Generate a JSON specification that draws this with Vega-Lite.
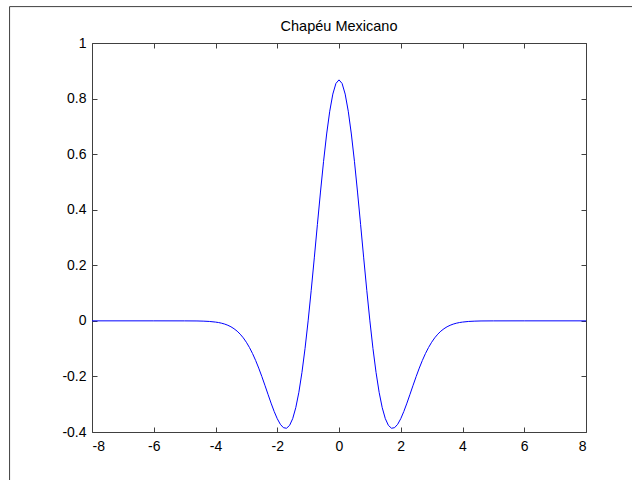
{
  "$schema": "https://vega.github.io/schema/vega-lite/v6.json",
  "width": 494,
  "height": 389,
  "autosize": {"type": "none"},
  "padding": {"left": 92, "top": 43, "right": 46, "bottom": 48},
  "background": "white",
  "title": {"text": "Chapéu Mexicano", "font": "Liberation Sans", "fontSize": 14.5, "fontWeight": "normal", "color": "#000000", "offset": 12, "dy": 51, "baseline": "alphabetic", "frame": "group", "anchor": "middle"},
  "config": {
    "view": {"stroke": null},
    "axis": {
      "domainColor": "#404040", "tickColor": "#404040", "domainWidth": 1, "tickWidth": 1,
      "tickSize": -5, "grid": false, "title": null,
      "labelFont": "Liberation Sans", "labelFontSize": 14, "labelColor": "#000000"
    }
  },
  "data": {"values": [
    {"t": -8, "v": 0}, {"t": -6, "v": 0}, {"t": -5, "v": -0.0001}, {"t": -4.6, "v": -0.0004}, {"t": -4.4, "v": -0.001}, {"t": -4.2, "v": -0.0021},
    {"t": -4.0, "v": -0.0044}, {"t": -3.9, "v": -0.0061}, {"t": -3.8, "v": -0.0085}, {"t": -3.7, "v": -0.0117}, {"t": -3.6, "v": -0.0159},
    {"t": -3.5, "v": -0.0213}, {"t": -3.4, "v": -0.0283}, {"t": -3.3, "v": -0.037}, {"t": -3.2, "v": -0.0479}, {"t": -3.1, "v": -0.0611},
    {"t": -3.0, "v": -0.0771}, {"t": -2.9, "v": -0.0959}, {"t": -2.8, "v": -0.1177}, {"t": -2.7, "v": -0.1425}, {"t": -2.6, "v": -0.1701},
    {"t": -2.5, "v": -0.2001}, {"t": -2.4, "v": -0.2317}, {"t": -2.3, "v": -0.2642}, {"t": -2.2, "v": -0.2961}, {"t": -2.1, "v": -0.3261},
    {"t": -2.0, "v": -0.3521}, {"t": -1.9, "v": -0.3723}, {"t": -1.8, "v": -0.3845}, {"t": -1.7, "v": -0.3865}, {"t": -1.6, "v": -0.3762},
    {"t": -1.5, "v": -0.352}, {"t": -1.4, "v": -0.3125}, {"t": -1.3, "v": -0.2571}, {"t": -1.2, "v": -0.1858}, {"t": -1.1, "v": -0.0995},
    {"t": -1.0, "v": 0}, {"t": -0.9, "v": 0.1099}, {"t": -0.8, "v": 0.2267}, {"t": -0.7, "v": 0.3462}, {"t": -0.6, "v": 0.4636},
    {"t": -0.5, "v": 0.5741}, {"t": -0.4, "v": 0.6725}, {"t": -0.3, "v": 0.7545}, {"t": -0.2, "v": 0.8161}, {"t": -0.1, "v": 0.8544},
    {"t": 0, "v": 0.8673},
    {"t": 0.1, "v": 0.8544}, {"t": 0.2, "v": 0.8161}, {"t": 0.3, "v": 0.7545}, {"t": 0.4, "v": 0.6725}, {"t": 0.5, "v": 0.5741},
    {"t": 0.6, "v": 0.4636}, {"t": 0.7, "v": 0.3462}, {"t": 0.8, "v": 0.2267}, {"t": 0.9, "v": 0.1099}, {"t": 1.0, "v": 0},
    {"t": 1.1, "v": -0.0995}, {"t": 1.2, "v": -0.1858}, {"t": 1.3, "v": -0.2571}, {"t": 1.4, "v": -0.3125}, {"t": 1.5, "v": -0.352},
    {"t": 1.6, "v": -0.3762}, {"t": 1.7, "v": -0.3865}, {"t": 1.8, "v": -0.3845}, {"t": 1.9, "v": -0.3723}, {"t": 2.0, "v": -0.3521},
    {"t": 2.1, "v": -0.3261}, {"t": 2.2, "v": -0.2961}, {"t": 2.3, "v": -0.2642}, {"t": 2.4, "v": -0.2317}, {"t": 2.5, "v": -0.2001},
    {"t": 2.6, "v": -0.1701}, {"t": 2.7, "v": -0.1425}, {"t": 2.8, "v": -0.1177}, {"t": 2.9, "v": -0.0959}, {"t": 3.0, "v": -0.0771},
    {"t": 3.1, "v": -0.0611}, {"t": 3.2, "v": -0.0479}, {"t": 3.3, "v": -0.037}, {"t": 3.4, "v": -0.0283}, {"t": 3.5, "v": -0.0213},
    {"t": 3.6, "v": -0.0159}, {"t": 3.7, "v": -0.0117}, {"t": 3.8, "v": -0.0085}, {"t": 3.9, "v": -0.0061}, {"t": 4.0, "v": -0.0044},
    {"t": 4.2, "v": -0.0021}, {"t": 4.4, "v": -0.001}, {"t": 4.6, "v": -0.0004}, {"t": 5, "v": -0.0001}, {"t": 6, "v": 0}, {"t": 8, "v": 0}
  ]},
  "resolve": {"axis": {"x": "independent", "y": "independent"}},
  "layer": [
    {
      "data": {"values": [{}]},
      "mark": {"type": "rule", "color": "#404040", "strokeWidth": 1},
      "encoding": {
        "x": {"datum": -10.67, "type": "quantitative", "scale": {"domain": [-8, 8], "nice": false, "zero": false}, "axis": null},
        "x2": {"datum": 10.2},
        "y": {"datum": 1.131, "type": "quantitative", "scale": {"domain": [-0.4, 1], "nice": false, "zero": false}, "axis": null}
      }
    },
    {
      "data": {"values": [{}]},
      "mark": {"type": "rule", "color": "#404040", "strokeWidth": 1},
      "encoding": {
        "x": {"datum": -10.67, "type": "quantitative", "scale": {"domain": [-8, 8], "nice": false, "zero": false}, "axis": null},
        "y": {"datum": 1.131, "type": "quantitative", "scale": {"domain": [-0.4, 1], "nice": false, "zero": false}, "axis": null},
        "y2": {"datum": -0.6}
      }
    },
    {
      "mark": {"type": "line", "color": "#0000ff", "strokeWidth": 1},
      "encoding": {
        "x": {"field": "t", "type": "quantitative", "scale": {"domain": [-8, 8], "nice": false, "zero": false},
              "axis": {"orient": "bottom", "values": [-8, -6, -4, -2, 0, 2, 4, 6, 8], "labelExpr": "datum.value + ''", "labelPadding": 12}},
        "y": {"field": "v", "type": "quantitative", "scale": {"domain": [-0.4, 1], "nice": false, "zero": false},
              "axis": {"orient": "left", "values": [-0.4, -0.2, 0, 0.2, 0.4, 0.6, 0.8, 1], "labelExpr": "datum.value + ''", "labelPadding": 11}}
      }
    },
    {
      "mark": {"type": "point", "opacity": 0},
      "encoding": {
        "x": {"field": "t", "type": "quantitative", "scale": {"domain": [-8, 8], "nice": false, "zero": false},
              "axis": {"orient": "top", "values": [-8, -6, -4, -2, 0, 2, 4, 6, 8], "labels": false}},
        "y": {"field": "v", "type": "quantitative", "scale": {"domain": [-0.4, 1], "nice": false, "zero": false},
              "axis": {"orient": "right", "values": [-0.4, -0.2, 0, 0.2, 0.4, 0.6, 0.8, 1], "labels": false}}
      }
    }
  ]
}
